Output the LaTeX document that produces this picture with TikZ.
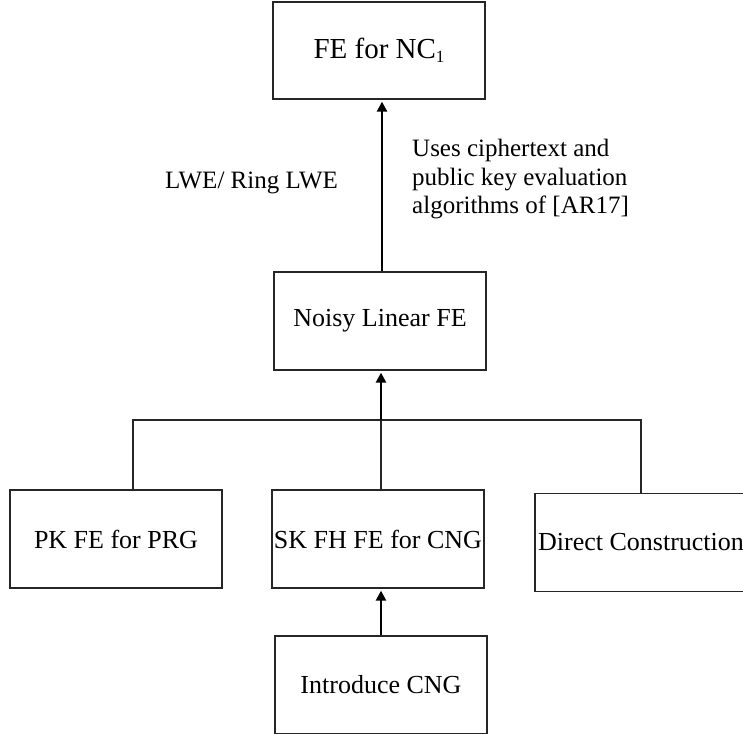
\documentclass[tikz,border=0pt]{standalone}
\usepackage{fontspec}
\setmainfont{Liberation Serif}
\usetikzlibrary{arrows.meta}
\begin{document}
\begin{tikzpicture}[x=1pt,y=1pt,
 box/.style={draw=black!85, line width=1.3pt, minimum width=212pt, minimum height=98pt, inner sep=0pt, font=\fontsize{26}{29}\selectfont},
 arr/.style={line width=2.4pt, -{Triangle[length=10pt,width=10pt]}, shorten >=2pt},
 tree/.style={line width=1.3pt, draw=black!85},
 lbl/.style={font=\fontsize{25}{28.5}\selectfont, align=left, inner sep=0pt}]
\useasboundingbox (0,0) rectangle (743,-733);
\clip (0,0) rectangle (743,-733);
\node[box, minimum height=97pt, font=\fontsize{29}{34}\selectfont] (fe) at (379,-50.5) {FE for NC{\fontsize{17}{20}\selectfont\raisebox{-4pt}{1}}};
\node[box] (noisy) at (380,-321) {Noisy Linear FE};
\node[box] (pk) at (116,-539) {PK FE for PRG};
\node[box] (sk) at (378,-539) {SK FH FE for CNG};
\node[box] (dc) at (641,-542.5) {Direct Construction};
\node[box] (intro) at (381,-685) {Introduce CNG};
\node[lbl, anchor=west] (lwe) at (165,-183) {LWE/ Ring LWE};
\node[lbl, anchor=north west] (uses) at (412,-139) {Uses ciphertext and\\public key evaluation\\algorithms of [AR17]};
\coordinate (hl) at (133,-420);
\coordinate (hr) at (641,-420);
\coordinate (j) at (381,-420);
\coordinate (ta) at (382,0);
\draw[arr] (noisy.north -| ta) -- (fe.south -| ta);
\draw[tree] (pk.north -| hl) -- (hl) -- (hr) -- (dc.north -| hr);
\draw[tree] (sk.north -| j) -- (j);
\draw[arr] (j) -- (noisy.south -| j);
\draw[arr] (intro.north) -- (sk.south -| intro.north);
\end{tikzpicture}
\end{document}
